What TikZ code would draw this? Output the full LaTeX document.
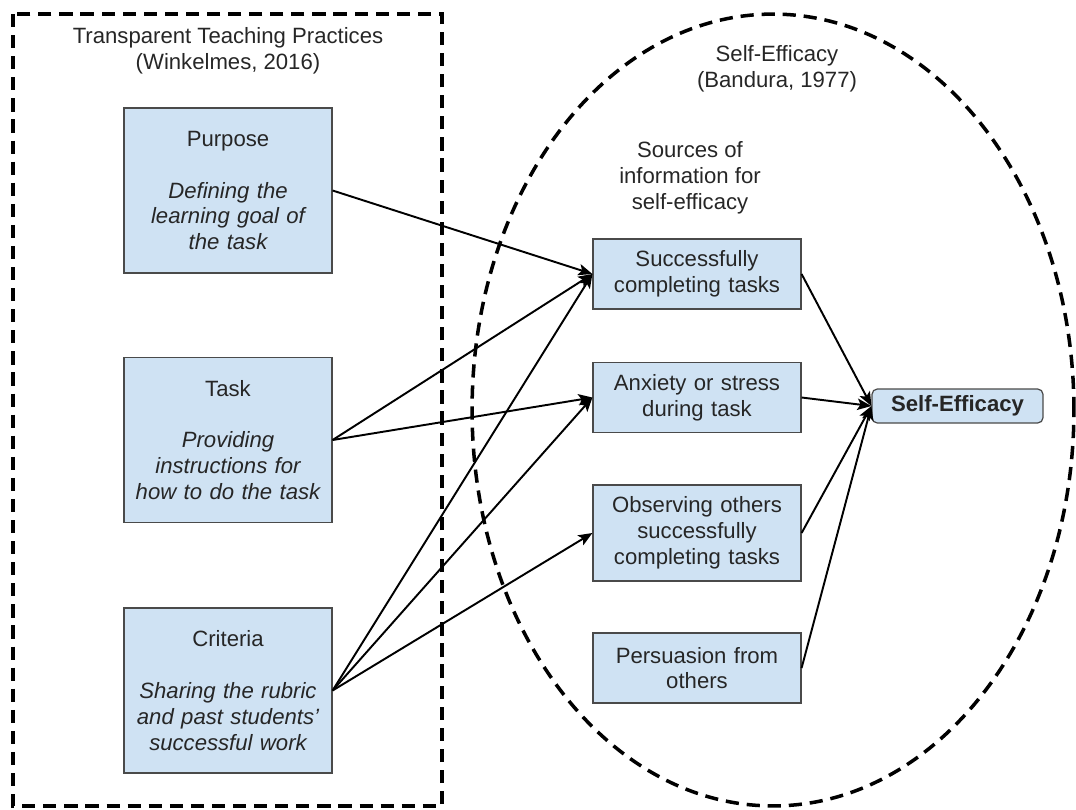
\documentclass[tikz,border=0pt]{standalone}
\usepackage{fontspec}
\setmainfont{Liberation Sans}
\usetikzlibrary{arrows.meta}
\definecolor{boxblue}{HTML}{CFE2F3}
\definecolor{boxline}{HTML}{4A4A4A}

\begin{document}
\begin{tikzpicture}[x=0.02cm, y=-0.02cm, >={Stealth[length=8pt,width=6.5pt,inset=1.8pt]},
    font=\fontsize{12.6}{14.7}\selectfont, text=black!85,
    practice/.style={draw=boxline, fill=boxblue, line width=0.7pt, minimum width=4.16cm,
        minimum height=3.3cm, text width=3.9cm, align=center, inner sep=0pt},
    source/.style={practice, minimum height=1.4cm},
    frame/.style={line width=2pt, dash pattern=on 7.5pt off 4.5pt},
    link/.style={->, line width=1.1pt}]
    \useasboundingbox (0,0) rectangle (1076,809);

    % the two frames
    \draw[frame] (13,14) rectangle (442,806);
    \draw[frame] (773,410) ellipse [x radius=6.02cm, y radius=7.92cm];

    \node[align=center] (ttp) at (228,51) {Transparent Teaching Practices\\(Winkelmes, 2016)};
    \node[align=center] (se title) at (777,69) {Self-Efficacy\\(Bandura, 1977)};
    \node[align=center] (sources) at (690,178) {Sources of\\information for\\self-efficacy};

    % transparent teaching
    \node[practice] (purpose) at (228,190.5)
        {Purpose\\[\baselineskip]\itshape Defining the\\learning goal of\\the task};
    \node[practice] (task) at (228,440)
        {Task\\[\baselineskip]\itshape Providing\\instructions for\\how to do the task};
    \node[practice] (criteria) at (228,690.5)
        {Criteria\\[\baselineskip]\itshape Sharing the rubric\\and past students'\\successful work};

    % sources of information
    \node[source] (mastery) at (697,274) {Successfully\\completing tasks};
    \node[source] (anxiety) at (697,397.5) {Anxiety or stress\\during task};
    \node[source, minimum height=1.92cm] (vicarious) at (697,533)
        {Observing others\\successfully\\completing tasks};
    \node[source] (persuasion) at (697,668) {Persuasion from\\others};

    \node[draw=boxline, fill=boxblue, line width=0.7pt, rounded corners=3pt, minimum width=3.42cm,
        minimum height=0.68cm, font=\fontsize{12.6}{14.7}\selectfont\bfseries] (efficacy) at (957.5,406) {Self-Efficacy};

    \draw[link] (purpose.east) -- (mastery.west);
    \draw[link] (task.east) -- (mastery.west);
    \draw[link] (task.east) -- (anxiety.west);
    \draw[link] (criteria.east) -- (mastery.west);
    \draw[link] (criteria.east) -- (anxiety.west);
    \draw[link] (criteria.east) -- (vicarious.west);

    \foreach \src in {mastery, anxiety, vicarious, persuasion}
        \draw[link] (\src.east) -- (efficacy.west);
\end{tikzpicture}
\end{document}
